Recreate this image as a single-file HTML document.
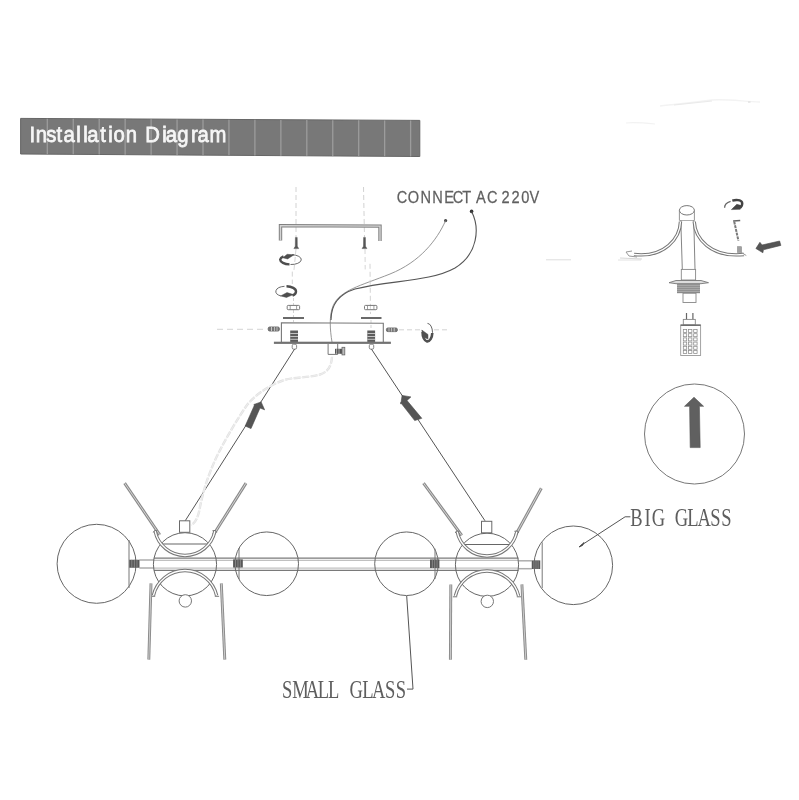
<!DOCTYPE html>
<html><head><meta charset="utf-8"><style>
html,body{margin:0;padding:0;background:#fff;}
svg{display:block;will-change:transform;}
</style></head><body>
<svg width="799" height="800" viewBox="0 0 799 800">
<rect width="799" height="800" fill="#fff"/>
<polygon points="20.6,118.4 419.8,120.4 419.8,156.5 20.6,154" fill="#787878"/>
<polygon points="20.6,118.4 419.8,120.4 419.8,156.5 20.6,154" fill="none" stroke="#666" stroke-width="1"/>
<line x1="47.3" y1="118.73" x2="47.3" y2="154.17" stroke="#9c9c9c" stroke-width="1.3" />
<line x1="73.25" y1="118.86" x2="73.25" y2="154.33" stroke="#9c9c9c" stroke-width="1.3" />
<line x1="99.2" y1="118.99" x2="99.2" y2="154.49" stroke="#9c9c9c" stroke-width="1.3" />
<line x1="125.15" y1="119.12" x2="125.15" y2="154.65" stroke="#9c9c9c" stroke-width="1.3" />
<line x1="151.1" y1="119.25" x2="151.1" y2="154.82" stroke="#9c9c9c" stroke-width="1.3" />
<line x1="177.05" y1="119.38" x2="177.05" y2="154.98" stroke="#9c9c9c" stroke-width="1.3" />
<line x1="203.0" y1="119.51" x2="203.0" y2="155.14" stroke="#9c9c9c" stroke-width="1.3" />
<line x1="228.95" y1="119.64" x2="228.95" y2="155.3" stroke="#9c9c9c" stroke-width="1.3" />
<line x1="254.9" y1="119.77" x2="254.9" y2="155.47" stroke="#9c9c9c" stroke-width="1.3" />
<line x1="280.85" y1="119.9" x2="280.85" y2="155.63" stroke="#9c9c9c" stroke-width="1.3" />
<line x1="306.8" y1="120.03" x2="306.8" y2="155.79" stroke="#9c9c9c" stroke-width="1.3" />
<line x1="332.75" y1="120.16" x2="332.75" y2="155.95" stroke="#9c9c9c" stroke-width="1.3" />
<line x1="358.7" y1="120.29" x2="358.7" y2="156.12" stroke="#9c9c9c" stroke-width="1.3" />
<line x1="384.65" y1="120.42" x2="384.65" y2="156.28" stroke="#9c9c9c" stroke-width="1.3" />
<line x1="410.6" y1="120.55" x2="410.6" y2="156.44" stroke="#9c9c9c" stroke-width="1.3" />
<text transform="scale(0.9,1)" x="36.00 46.00 57.11 65.78 76.89 87.33 95.00 103.33 114.44 122.78 132.50 145.89 169.44 182.78 190.33 203.22 216.00 225.78 242.11" y="141.8" font-family="Liberation Sans" font-size="22.5" fill="#f6f6f6" stroke="#f6f6f6" stroke-width="0.8" text-anchor="middle">InstallationDiagram</text>
<text transform="scale(0.86,1)" x="467.44 480.81 495.23 508.84 522.21 532.67 542.67 559.30 572.44 588.02 599.42 610.93 621.28" y="203" font-family="Liberation Sans" font-size="17.0" fill="#606060" stroke="#606060" stroke-width="0.25" text-anchor="middle">CONNECTAC220V</text>
<circle cx="445.6" cy="220.6" r="1.6" stroke="none" stroke-width="0" fill="#444"/>
<circle cx="471.6" cy="211.4" r="1.8" stroke="none" stroke-width="0" fill="#333"/>
<path d="M445.6,220.6 C437,240 420,262 390,274 C360,286 340,290 333,306 C329,316 330,330 332,342" stroke="#8a8a8a" stroke-width="0.9" fill="none" />
<path d="M471.6,211.4 C480,228 478,254 455,268 C430,282 390,280 355,289 C336,295 331,308 331,320" stroke="#555" stroke-width="1.1" fill="none" />
<line x1="296" y1="187" x2="296" y2="237" stroke="#c6c6c6" stroke-width="0.8" stroke-dasharray="5,3"/>
<line x1="296" y1="249" x2="294" y2="270" stroke="#cccccc" stroke-width="0.8" stroke-dasharray="5,3"/>
<line x1="292.3" y1="271.6" x2="292.3" y2="284" stroke="#c8c8c8" stroke-width="0.8" stroke-dasharray="5,3"/>
<line x1="293.5" y1="298" x2="293.5" y2="305" stroke="#c8c8c8" stroke-width="0.8" stroke-dasharray="3,2"/>
<line x1="293.5" y1="310" x2="293.5" y2="322" stroke="#c8c8c8" stroke-width="0.8" stroke-dasharray="3,2"/>
<line x1="363.5" y1="187" x2="364.5" y2="237" stroke="#c6c6c6" stroke-width="0.8" stroke-dasharray="5,3"/>
<line x1="365" y1="249" x2="365.2" y2="269.4" stroke="#cccccc" stroke-width="0.8" stroke-dasharray="5,3"/>
<line x1="370" y1="263.8" x2="370.5" y2="314" stroke="#c8c8c8" stroke-width="0.8" stroke-dasharray="5,3"/>
<line x1="371" y1="320" x2="371" y2="330" stroke="#c8c8c8" stroke-width="0.8" stroke-dasharray="3,2"/>
<path d="M280.5,240.5 L280.5,225.6 L380,226.1 L380,241" stroke="#808080" stroke-width="3.4" fill="none" stroke-linejoin="miter"/>
<path d="M280.5,240.5 L280.5,225.6 L380,226.1 L380,241" stroke="#d4d4d4" stroke-width="1.4" fill="none" stroke-linejoin="miter"/>
<path d="M295.40000000000003,237.4 L297.2,237.4 L297.3,246.2 L298.7,248.6 L293.90000000000003,248.6 L295.3,246.2 Z" stroke="#555" stroke-width="0.5" fill="#555" />
<path d="M363.6,237.4 L365.4,237.4 L365.5,246.2 L366.9,248.6 L362.1,248.6 L363.5,246.2 Z" stroke="#555" stroke-width="0.5" fill="#555" />
<path d="M292,254.7 A10,4.9 0 0 1 290.5,264.5" stroke="#6a6a6a" stroke-width="1.0" fill="none" />
<path d="M289.5,264.4 A10,4.9 0 0 1 280.2,259.6 A10,4.9 0 0 1 283.5,256.4" stroke="#4e4e4e" stroke-width="2.4" fill="none" />
<path d="M282.8,257.8 L287.2,254.3 L294,254.8 L287.6,258.9 Z" stroke="#4e4e4e" stroke-width="0.5" fill="#4e4e4e" />
<path d="M284.5,286.3 A10,5.2 0 0 0 281,296" stroke="#6a6a6a" stroke-width="1.0" fill="none" />
<path d="M286.5,286.3 A10,5.2 0 0 1 296,291.5 A10,5.2 0 0 1 292.5,295.6" stroke="#4e4e4e" stroke-width="2.4" fill="none" />
<path d="M280.6,295.9 L287,292.6 L293.4,294.6 L286.5,297.4 Z" stroke="#4e4e4e" stroke-width="0.5" fill="#4e4e4e" />
<rect x="287.2" y="305.4" width="12.4" height="4.3" rx="1" fill="none" stroke="#777" stroke-width="1"/>
<line x1="290.2" y1="305.4" x2="290.2" y2="309.7" stroke="#888" stroke-width="0.8" />
<line x1="296.59999999999997" y1="305.4" x2="296.59999999999997" y2="309.7" stroke="#888" stroke-width="0.8" />
<rect x="364.5" y="305.4" width="12.4" height="4.3" rx="1" fill="none" stroke="#777" stroke-width="1"/>
<line x1="367.5" y1="305.4" x2="367.5" y2="309.7" stroke="#888" stroke-width="0.8" />
<line x1="373.9" y1="305.4" x2="373.9" y2="309.7" stroke="#888" stroke-width="0.8" />
<line x1="283" y1="318" x2="304" y2="318" stroke="#6a6a6a" stroke-width="2.0" />
<line x1="361" y1="318" x2="381.5" y2="318" stroke="#6a6a6a" stroke-width="2.0" />
<path d="M281.4,342 L281.4,322.8 L383.3,323.2 L383.3,342" stroke="#777" stroke-width="1.1" fill="none" />
<rect x="273.9" y="341.7" width="117" height="2.2" fill="#727272"/>
<rect x="290.2" y="330.5" width="7.8" height="11.4" fill="#5c5c5c"/>
<line x1="290.2" y1="333.5" x2="298.0" y2="333.5" stroke="#cfcfcf" stroke-width="0.9" />
<line x1="290.2" y1="336.5" x2="298.0" y2="336.5" stroke="#cfcfcf" stroke-width="0.9" />
<line x1="290.2" y1="339.3" x2="298.0" y2="339.3" stroke="#cfcfcf" stroke-width="0.9" />
<rect x="292.2" y="344.2" width="4.4" height="5" rx="1.5" fill="#fff" stroke="#777" stroke-width="0.9"/>
<rect x="367.3" y="330.5" width="7.8" height="11.4" fill="#5c5c5c"/>
<line x1="367.3" y1="333.5" x2="375.1" y2="333.5" stroke="#cfcfcf" stroke-width="0.9" />
<line x1="367.3" y1="336.5" x2="375.1" y2="336.5" stroke="#cfcfcf" stroke-width="0.9" />
<line x1="367.3" y1="339.3" x2="375.1" y2="339.3" stroke="#cfcfcf" stroke-width="0.9" />
<rect x="369.3" y="344.2" width="4.4" height="5" rx="1.5" fill="#fff" stroke="#777" stroke-width="0.9"/>
<rect x="268.2" y="327" width="11.2" height="4" rx="1.5" fill="#777" stroke="#666" stroke-width="0.9"/>
<line x1="271.5" y1="327" x2="271.5" y2="331" stroke="#ddd" stroke-width="0.8" />
<line x1="274.5" y1="327" x2="274.5" y2="331" stroke="#ccc" stroke-width="0.8" />
<line x1="277" y1="327" x2="277" y2="331" stroke="#ccc" stroke-width="0.8" />
<rect x="386.4" y="328" width="11" height="3.6" rx="1.5" fill="#777" stroke="#666" stroke-width="0.9"/>
<line x1="389" y1="328" x2="389" y2="331.6" stroke="#ccc" stroke-width="0.8" />
<line x1="391.5" y1="328" x2="391.5" y2="331.6" stroke="#ccc" stroke-width="0.8" />
<line x1="394.2" y1="328" x2="394.2" y2="331.6" stroke="#ddd" stroke-width="0.8" />
<line x1="217" y1="329.3" x2="267" y2="329.3" stroke="#c8c8c8" stroke-width="0.8" stroke-dasharray="6,4"/>
<line x1="399" y1="329.8" x2="421" y2="329.8" stroke="#c8c8c8" stroke-width="0.8" stroke-dasharray="5,3"/>
<line x1="434" y1="329.8" x2="450" y2="329.8" stroke="#c8c8c8" stroke-width="0.8" stroke-dasharray="5,3"/>
<path d="M427.5,323.4 A5,9.2 0 0 1 432.5,332.5 A5,9.2 0 0 1 427.5,341.6" stroke="#666" stroke-width="1.0" fill="none" />
<path d="M432.3,333 A5,9 0 0 1 427,341.4 A5,9 0 0 1 422.6,332" stroke="#505050" stroke-width="2.6" fill="none" />
<path d="M421.8,330 L428,334.5 L428,339 L423,337 Z" stroke="#505050" stroke-width="0.5" fill="#505050" />
<path d="M328.1,344 L328.1,354.4 L337.7,354.4 L337.7,344" stroke="#777" stroke-width="1.0" fill="none" />
<rect x="335" y="348.8" width="7" height="5" fill="#555"/>
<rect x="342" y="347.3" width="2.8" height="7.6" fill="#bbb" stroke="#666" stroke-width="0.8"/>
<line x1="336.6" y1="349" x2="336.6" y2="354" stroke="#ccc" stroke-width="0.7" />
<line x1="339" y1="349" x2="339" y2="354" stroke="#ccc" stroke-width="0.7" />
<line x1="294.5" y1="349.2" x2="185.2" y2="520.8" stroke="#555" stroke-width="1.0" />
<line x1="371.5" y1="349.2" x2="485" y2="520.8" stroke="#555" stroke-width="1.0" />
<path d="M332,356.8 C331.5,366 328,372 320,374.5 C308,378 292,377 283,380.5 C270,385 256,394 247,405 C238,418 226,438 217,456 C208,475 203,492 200,507 C198.5,516 196,522 191.4,525.2" stroke="#e2e2e2" stroke-width="2.4" fill="none" stroke-dasharray="7,1.5"/>
<path d="M332,356.8 C331.5,366 328,372 320,374.5 C308,378 292,377 283,380.5 C270,385 256,394 247,405 C238,418 226,438 217,456 C208,475 203,492 200,507 C198.5,516 196,522 191.4,525.2" stroke="#f2f2f2" stroke-width="0.7" fill="none" />
<path d="M261.1,401.9 L264.6,409.8 L260,408 L251,428.6 L245.2,426 L254.2,405.7 L253.9,404.5 Z" stroke="#4a4a4a" stroke-width="0.6" fill="#555" />
<path d="M402.1,395.4 L410.9,396.9 L407,400.5 L421.8,418.3 L414.7,420.6 L400.6,402.5 L400.8,404.1 Z" stroke="#4a4a4a" stroke-width="0.6" fill="#555" />
<line x1="139.4" y1="560" x2="154" y2="560" stroke="#adadad" stroke-width="1.5" />
<line x1="139.4" y1="568" x2="154" y2="568" stroke="#adadad" stroke-width="1.5" />
<line x1="154" y1="558.2" x2="518.5" y2="558.2" stroke="#7a7a7a" stroke-width="1.2" />
<line x1="154" y1="570.3" x2="518.5" y2="570.3" stroke="#7a7a7a" stroke-width="1.2" />
<line x1="154" y1="560.3" x2="518.5" y2="560.3" stroke="#a8a8a8" stroke-width="0.9" />
<line x1="154" y1="568.1" x2="518.5" y2="568.1" stroke="#a8a8a8" stroke-width="0.9" />
<line x1="518.5" y1="560.8" x2="531.8" y2="560.8" stroke="#adadad" stroke-width="1.5" />
<line x1="518.5" y1="568.7" x2="531.8" y2="568.7" stroke="#adadad" stroke-width="1.5" />
<circle cx="96.6" cy="563.8" r="39.5" stroke="#666" stroke-width="1.0" fill="none"/>
<line x1="129" y1="540" x2="129" y2="588" stroke="#777" stroke-width="1.0" />
<circle cx="573.3" cy="565.3" r="39.3" stroke="#666" stroke-width="1.0" fill="none"/>
<line x1="542.2" y1="542.3" x2="542.2" y2="588" stroke="#777" stroke-width="1.0" />
<circle cx="266.7" cy="563.75" r="31.8" stroke="#666" stroke-width="1.0" fill="none"/>
<line x1="239" y1="548" x2="239" y2="579" stroke="#777" stroke-width="1.0" />
<circle cx="406.5" cy="563.75" r="31.8" stroke="#666" stroke-width="1.0" fill="none"/>
<line x1="435" y1="548.7" x2="435" y2="579" stroke="#777" stroke-width="1.0" />
<rect x="129.25" y="559.75" width="10.25" height="8" fill="#585858"/>
<line x1="131.81" y1="559.75" x2="131.81" y2="567.75" stroke="#999" stroke-width="0.7" />
<line x1="134.38" y1="559.75" x2="134.38" y2="567.75" stroke="#999" stroke-width="0.7" />
<line x1="136.94" y1="559.75" x2="136.94" y2="567.75" stroke="#999" stroke-width="0.7" />
<rect x="233.1" y="559.4" width="9.7" height="8.1" fill="#585858"/>
<line x1="235.53" y1="559.4" x2="235.53" y2="567.5" stroke="#999" stroke-width="0.7" />
<line x1="237.95" y1="559.4" x2="237.95" y2="567.5" stroke="#999" stroke-width="0.7" />
<line x1="240.38" y1="559.4" x2="240.38" y2="567.5" stroke="#999" stroke-width="0.7" />
<rect x="430" y="559.5" width="9.4" height="8.5" fill="#585858"/>
<line x1="432.35" y1="559.5" x2="432.35" y2="568.0" stroke="#999" stroke-width="0.7" />
<line x1="434.7" y1="559.5" x2="434.7" y2="568.0" stroke="#999" stroke-width="0.7" />
<line x1="437.05" y1="559.5" x2="437.05" y2="568.0" stroke="#999" stroke-width="0.7" />
<rect x="531.75" y="560.4" width="8.5" height="8.6" fill="#585858"/>
<line x1="533.88" y1="560.4" x2="533.88" y2="569.0" stroke="#999" stroke-width="0.7" />
<line x1="536.0" y1="560.4" x2="536.0" y2="569.0" stroke="#999" stroke-width="0.7" />
<line x1="538.12" y1="560.4" x2="538.12" y2="569.0" stroke="#999" stroke-width="0.7" />
<circle cx="185" cy="564.3" r="31.6" stroke="#666" stroke-width="1.0" fill="none"/>
<line x1="159.5" y1="544.0" x2="209.5" y2="544.0" stroke="#666" stroke-width="1.2" />
<rect x="179.5" y="520.8" width="10.3" height="11.5" fill="#fff" stroke="#6a6a6a" stroke-width="1.0"/>
<circle cx="185.3" cy="600.9" r="6.2" stroke="#777" stroke-width="1.0" fill="#fff"/>
<path d="M124.6,483.1 L159.7,534.8" stroke="#8a8a8a" stroke-width="3.0" fill="none" stroke-linecap="butt"/>
<path d="M124.6,483.1 L159.7,534.8" stroke="#d4d4d4" stroke-width="1.0" fill="none" stroke-linecap="butt"/>
<path d="M246,483.1 L213.5,534.8" stroke="#8a8a8a" stroke-width="3.0" fill="none" stroke-linecap="butt"/>
<path d="M246,483.1 L213.5,534.8" stroke="#d4d4d4" stroke-width="1.0" fill="none" stroke-linecap="butt"/>
<path d="M155.10,531.00 A30.5,30.5 0 0 0 214.90,531.00" stroke="#777" stroke-width="3.4" fill="none" stroke-linecap="butt"/>
<path d="M155.10,531.00 A30.5,30.5 0 0 0 214.90,531.00" stroke="#fff" stroke-width="1.3" fill="none" stroke-linecap="butt"/>
<path d="M153.30,532.50 L154.60,530.40 L157.60,530.80" stroke="#777" stroke-width="1.0" fill="none" />
<path d="M216.70,532.50 L215.40,530.40 L212.40,530.80" stroke="#777" stroke-width="1.0" fill="none" />
<path d="M153.38,595.50 A32.5,32.5 0 0 1 216.62,595.50" stroke="#777" stroke-width="3.4" fill="none" stroke-linecap="butt"/>
<path d="M153.38,595.50 A32.5,32.5 0 0 1 216.62,595.50" stroke="#fff" stroke-width="1.3" fill="none" stroke-linecap="butt"/>
<line x1="150.88" y1="596.3" x2="155.18" y2="596.3" stroke="#777" stroke-width="1.0" />
<line x1="214.82" y1="596.3" x2="219.12" y2="596.3" stroke="#777" stroke-width="1.0" />
<path d="M151,583.4 L148.8,659.6" stroke="#8a8a8a" stroke-width="2.9" fill="none" stroke-linecap="butt"/>
<path d="M151,583.4 L148.8,659.6" stroke="#d4d4d4" stroke-width="0.9" fill="none" stroke-linecap="butt"/>
<path d="M221.3,583.4 L224.8,659.6" stroke="#8a8a8a" stroke-width="2.9" fill="none" stroke-linecap="butt"/>
<path d="M221.3,583.4 L224.8,659.6" stroke="#d4d4d4" stroke-width="0.9" fill="none" stroke-linecap="butt"/>
<circle cx="487" cy="564.8" r="31.6" stroke="#666" stroke-width="1.0" fill="none"/>
<line x1="461.5" y1="544.5" x2="511.5" y2="544.5" stroke="#666" stroke-width="1.2" />
<rect x="481.5" y="521.3" width="10.3" height="11.5" fill="#fff" stroke="#6a6a6a" stroke-width="1.0"/>
<circle cx="487.3" cy="601.4" r="6.2" stroke="#777" stroke-width="1.0" fill="#fff"/>
<path d="M423.5,483.1 L461.7,535.3" stroke="#8a8a8a" stroke-width="3.0" fill="none" stroke-linecap="butt"/>
<path d="M423.5,483.1 L461.7,535.3" stroke="#d4d4d4" stroke-width="1.0" fill="none" stroke-linecap="butt"/>
<path d="M541.3,488.2 L515.5,535.3" stroke="#8a8a8a" stroke-width="3.0" fill="none" stroke-linecap="butt"/>
<path d="M541.3,488.2 L515.5,535.3" stroke="#d4d4d4" stroke-width="1.0" fill="none" stroke-linecap="butt"/>
<path d="M457.10,531.50 A30.5,30.5 0 0 0 516.90,531.50" stroke="#777" stroke-width="3.4" fill="none" stroke-linecap="butt"/>
<path d="M457.10,531.50 A30.5,30.5 0 0 0 516.90,531.50" stroke="#fff" stroke-width="1.3" fill="none" stroke-linecap="butt"/>
<path d="M455.30,533.00 L456.60,530.90 L459.60,531.30" stroke="#777" stroke-width="1.0" fill="none" />
<path d="M518.70,533.00 L517.40,530.90 L514.40,531.30" stroke="#777" stroke-width="1.0" fill="none" />
<path d="M455.38,596.00 A32.5,32.5 0 0 1 518.62,596.00" stroke="#777" stroke-width="3.4" fill="none" stroke-linecap="butt"/>
<path d="M455.38,596.00 A32.5,32.5 0 0 1 518.62,596.00" stroke="#fff" stroke-width="1.3" fill="none" stroke-linecap="butt"/>
<line x1="452.88" y1="596.8" x2="457.18" y2="596.8" stroke="#777" stroke-width="1.0" />
<line x1="516.82" y1="596.8" x2="521.12" y2="596.8" stroke="#777" stroke-width="1.0" />
<path d="M450.8,584.4 L450.4,659.7" stroke="#8a8a8a" stroke-width="2.9" fill="none" stroke-linecap="butt"/>
<path d="M450.8,584.4 L450.4,659.7" stroke="#d4d4d4" stroke-width="0.9" fill="none" stroke-linecap="butt"/>
<path d="M521.9,584.4 L525.8,659.7" stroke="#8a8a8a" stroke-width="2.9" fill="none" stroke-linecap="butt"/>
<path d="M521.9,584.4 L525.8,659.7" stroke="#d4d4d4" stroke-width="0.9" fill="none" stroke-linecap="butt"/>
<text transform="scale(0.76,1)" x="377.89 395.26 411.05 425.53 439.08 468.68 484.21 498.36 513.29 527.50" y="697.8" font-family="Liberation Serif" font-size="24.4" fill="#5e5e5e" text-anchor="middle">SMALLGLASS</text>
<path d="M406.7,596 L413,689.1 L407,689.1" stroke="#555" stroke-width="1.0" fill="none" />
<text transform="scale(0.76,1)" x="837.50 852.11 866.32 896.58 911.84 926.58 941.32 955.92" y="526.2" font-family="Liberation Serif" font-size="24.4" fill="#5e5e5e" text-anchor="middle">BIGGLASS</text>
<path d="M580.5,545.8 L625.1,516.8 L630.4,516.8" stroke="#555" stroke-width="1.0" fill="none" />
<path d="M579,547 L584,542.5 L582.5,545.5 Z" stroke="#444" stroke-width="0.8" fill="#444" />
<path d="M660,106 C675,104 690,103 712,100 C725,99 740,101 760,102" stroke="#f3f3f3" stroke-width="1.4" fill="none" />
<path d="M674,105 L712,101" stroke="#eaeaea" stroke-width="1.0" fill="none" />
<line x1="748" y1="102" x2="750.5" y2="102" stroke="#e0e0e0" stroke-width="1.4" />
<path d="M626,123 C635,122 645,123 655,124" stroke="#f2f2f2" stroke-width="1.2" fill="none" />
<line x1="546" y1="259.8" x2="571" y2="259.8" stroke="#ddd" stroke-width="1.0" />
<line x1="618" y1="260" x2="641" y2="260" stroke="#e2e2e2" stroke-width="1.0" />
<ellipse cx="686.9" cy="210.3" rx="7.5" ry="4.7" fill="#fff" stroke="#777" stroke-width="1"/>
<line x1="679.4" y1="210.3" x2="679.4" y2="220.5" stroke="#888" stroke-width="0.9" />
<line x1="694.4" y1="210.3" x2="694.4" y2="220.5" stroke="#888" stroke-width="0.9" />
<line x1="679.4" y1="220.5" x2="694.4" y2="220.5" stroke="#999" stroke-width="0.8" />
<path d="M680.8,220.5 L682.3,269.4 M693.8,220.5 L695,269.4" stroke="#777" stroke-width="0.9" fill="none" />
<rect x="681.3" y="269.4" width="14.3" height="10.6" fill="none" stroke="#888" stroke-width="0.9"/>
<path d="M669,282.7 L676,280.5 L701,280.5 L708.5,282.7 L701,283.7 L676,283.7 Z" stroke="#777" stroke-width="0.9" fill="#ddd" />
<rect x="677" y="283.6" width="23" height="9.6" fill="#8a8a8a"/>
<line x1="677" y1="285.3" x2="700" y2="285.3" stroke="#c0c0c0" stroke-width="0.7" />
<line x1="677" y1="287.3" x2="700" y2="287.3" stroke="#c0c0c0" stroke-width="0.7" />
<line x1="677" y1="289.3" x2="700" y2="289.3" stroke="#c0c0c0" stroke-width="0.7" />
<line x1="677" y1="291.3" x2="700" y2="291.3" stroke="#c0c0c0" stroke-width="0.7" />
<rect x="683" y="293.2" width="13" height="9.3" fill="none" stroke="#888" stroke-width="0.9"/>
<path d="M680.5,221.5 C680,238 665,258 634,254.5" stroke="#777" stroke-width="3.4" fill="none" stroke-linecap="butt"/>
<path d="M680.5,221.5 C680,238 665,258 634,254.5" stroke="#fff" stroke-width="1.3" fill="none" stroke-linecap="butt"/>
<path d="M694.2,221.5 C695,238 710,258 744,254.5" stroke="#777" stroke-width="3.4" fill="none" stroke-linecap="butt"/>
<path d="M694.2,221.5 C695,238 710,258 744,254.5" stroke="#fff" stroke-width="1.3" fill="none" stroke-linecap="butt"/>
<path d="M632,251 L626,252 L629,256 L637,257" stroke="#999" stroke-width="1.0" fill="none" />
<line x1="620" y1="258" x2="642" y2="259" stroke="#ccc" stroke-width="0.8" />
<path d="M724.6,207.8 C724.5,205 727,202.5 730.6,201.4" stroke="#666" stroke-width="1.3" fill="none" />
<path d="M732.3,200.6 C736,199.5 741,199.8 742,202.2 C742.6,204.2 741.5,206.5 740.3,207.5" stroke="#444" stroke-width="2.4" fill="none" />
<path d="M731.4,209.6 L736.8,204.3 L742.2,205.8 L740.2,209.3 Z" stroke="#444" stroke-width="0.5" fill="#444" />
<path d="M733.1,221 L740.2,220.5" stroke="#666" stroke-width="1.6" fill="none" />
<path d="M734.2,221.5 L738.4,240.6" stroke="#7a7a7a" stroke-width="2.0" fill="none" stroke-dasharray="3,0.8"/>
<rect x="737.5" y="246.7" width="4" height="5.7" fill="#a0a0a0" stroke="#888" stroke-width="0.6"/>
<path d="M740.5,252 L746.3,255.5" stroke="#999" stroke-width="1.0" fill="none" />
<path d="M755.9,248.5 L759.9,242.3 L762,245 L779.6,241 L780.9,245.4 L763.4,249.8 L762.9,252.8 Z" stroke="#4a4a4a" stroke-width="0.6" fill="#555" />
<line x1="686.5" y1="313" x2="686.5" y2="319.4" stroke="#666" stroke-width="1.2" />
<line x1="692.9" y1="313" x2="692.9" y2="319.4" stroke="#666" stroke-width="1.2" />
<rect x="683.3" y="319.4" width="12" height="5.6" fill="none" stroke="#888" stroke-width="0.9"/>
<rect x="680.7" y="325" width="19.9" height="30.5" fill="none" stroke="#999" stroke-width="0.9"/>
<line x1="680.7" y1="325.2" x2="700.6" y2="325.2" stroke="#666" stroke-width="1.4" />
<rect x="683.30" y="329.50" width="3.4" height="3" fill="none" stroke="#8a8a8a" stroke-width="0.75"/>
<rect x="688.50" y="329.50" width="3.4" height="3" fill="none" stroke="#8a8a8a" stroke-width="0.75"/>
<rect x="693.70" y="329.50" width="3.4" height="3" fill="none" stroke="#8a8a8a" stroke-width="0.75"/>
<rect x="683.30" y="333.70" width="3.4" height="3" fill="none" stroke="#8a8a8a" stroke-width="0.75"/>
<rect x="688.50" y="333.70" width="3.4" height="3" fill="none" stroke="#8a8a8a" stroke-width="0.75"/>
<rect x="693.70" y="333.70" width="3.4" height="3" fill="none" stroke="#8a8a8a" stroke-width="0.75"/>
<rect x="683.30" y="337.90" width="3.4" height="3" fill="none" stroke="#8a8a8a" stroke-width="0.75"/>
<rect x="688.50" y="337.90" width="3.4" height="3" fill="none" stroke="#8a8a8a" stroke-width="0.75"/>
<rect x="693.70" y="337.90" width="3.4" height="3" fill="none" stroke="#8a8a8a" stroke-width="0.75"/>
<rect x="683.30" y="342.10" width="3.4" height="3" fill="none" stroke="#8a8a8a" stroke-width="0.75"/>
<rect x="688.50" y="342.10" width="3.4" height="3" fill="none" stroke="#8a8a8a" stroke-width="0.75"/>
<rect x="693.70" y="342.10" width="3.4" height="3" fill="none" stroke="#8a8a8a" stroke-width="0.75"/>
<rect x="683.30" y="346.30" width="3.4" height="3" fill="none" stroke="#8a8a8a" stroke-width="0.75"/>
<rect x="688.50" y="346.30" width="3.4" height="3" fill="none" stroke="#8a8a8a" stroke-width="0.75"/>
<rect x="693.70" y="346.30" width="3.4" height="3" fill="none" stroke="#8a8a8a" stroke-width="0.75"/>
<rect x="683.30" y="350.50" width="3.4" height="3" fill="none" stroke="#8a8a8a" stroke-width="0.75"/>
<rect x="688.50" y="350.50" width="3.4" height="3" fill="none" stroke="#8a8a8a" stroke-width="0.75"/>
<rect x="693.70" y="350.50" width="3.4" height="3" fill="none" stroke="#8a8a8a" stroke-width="0.75"/>
<circle cx="694.5" cy="434" r="50" stroke="#777" stroke-width="1.0" fill="none"/>
<path d="M694,397.2 L703.6,406.3 L699.4,406.3 L700.2,447.6 L690.2,447.6 L689.6,406.3 L684.5,406.3 Z" stroke="#555" stroke-width="0.6" fill="#606060" />
</svg>
</body></html>
